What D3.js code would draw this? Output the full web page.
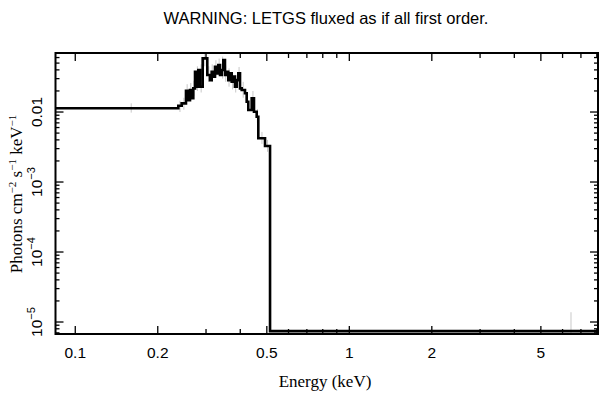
<!DOCTYPE html>
<html><head><meta charset="utf-8">
<script src="https://cdn.jsdelivr.net/npm/d3@7"></script>
<style>body{margin:0;background:#fff}svg{display:block}</style>
</head><body><svg id="c" width="609" height="399"></svg>
<script>
// Bin edges (keV) and flux per bin (photons cm^-2 s^-1 keV^-1)
const binEdges = [0.080,0.2377,0.2445,0.2535,0.2585,0.2622,0.266,0.2696,0.2735,0.2773,0.2811,0.2852,0.2917,0.3032,0.3101,0.3146,0.3188,0.3235,0.3281,0.3326,0.3374,0.3422,0.3468,0.3518,0.3569,0.3617,0.3669,0.3722,0.3772,0.3826,0.3882,0.3935,0.3992,0.4049,0.4162,0.4222,0.4279,0.4403,0.4489,0.4592,0.4655,0.4925,0.5137,9.0];
const binFlux = [0.0113,0.0123,0.0133,0.0201,0.0148,0.0206,0.0157,0.0218,0.0376,0.023,0.0398,0.023,0.0585,0.0338,0.0286,0.0376,0.032,0.0444,0.0357,0.0469,0.0338,0.0398,0.0553,0.0338,0.0376,0.0286,0.0357,0.0271,0.032,0.023,0.0286,0.0357,0.0218,0.0206,0.0185,0.014,0.0107,0.0157,0.0101,0.00857,0.00421,0.00327,7.4e-6];
// Error bars (grey)
const errE  = [0.160,0.241,0.249,0.256,0.264,0.271,0.279,0.288,0.297,0.307,0.316,0.326,0.335,0.345,0.354,0.364,0.375,0.385,0.396,0.410,0.425,0.445,0.462,0.480,0.503,6.44];
const errLo = [0.0098,0.0100,0.0108,0.016,0.015,0.017,0.020,0.019,0.045,0.027,0.027,0.033,0.034,0.030,0.027,0.023,0.021,0.019,0.022,0.016,0.011,0.011,0.0070,0.0035,0.0027,1e-6];
const errHi = [0.0133,0.0145,0.0160,0.025,0.026,0.028,0.045,0.048,0.070,0.045,0.048,0.055,0.058,0.062,0.046,0.042,0.036,0.034,0.044,0.027,0.019,0.020,0.011,0.0052,0.0040,1.38e-5];
const xTickLabels = [0.1,0.2,0.5,1,2,5];
const yTickLabels = [1e-5,1e-4,1e-3,0.01];
const title = "WARNING: LETGS fluxed as if all first order.";

const svg = d3.select("#c");
const L=55.5, R=598, T=53, B=334;
const x = d3.scaleLog().domain([0.0847, 8.08]).range([L, R]);
const y = d3.scaleLog().domain([6.74e-6, 0.0697]).range([B, T]);

svg.append("clipPath").attr("id","cp").append("rect")
  .attr("x",L).attr("y",T).attr("width",R-L).attr("height",B-T);
const g = svg.append("g").attr("clip-path","url(#cp)");

// error bars
g.selectAll("line.err").data(errE).join("line")
  .attr("x1",d=>x(d)).attr("x2",d=>x(d))
  .attr("y1",(d,i)=>y(errLo[i])).attr("y2",(d,i)=>y(errHi[i]))
  .attr("stroke","#c8c8c8").attr("stroke-width",1);

// step line
const pts = binFlux.map((v,i)=>[binEdges[i],v]);
pts.push([binEdges[binEdges.length-1], binFlux[binFlux.length-1]]);
g.append("path").attr("d", d3.line().x(d=>x(d[0])).y(d=>y(d[1])).curve(d3.curveStepAfter)(pts))
  .attr("fill","none").attr("stroke","#000").attr("stroke-width",2.6);

// ticks
const xMinor = [];
for (const dec of [0.1,1]) for (let k=1;k<=9;k++){const v=dec*k; if(v>x.domain()[0]&&v<x.domain()[1]) xMinor.push(v);}
const yMinor = [];
for (const dec of [1e-6,1e-5,1e-4,1e-3,1e-2]) for (let k=1;k<=9;k++){const v=dec*k; if(v>y.domain()[0]&&v<y.domain()[1]) yMinor.push(v);}
const tk = svg.append("g").attr("stroke","#000").attr("stroke-width",1.3);
xMinor.forEach(v=>{
  const major = xTickLabels.includes(+v.toFixed(3));
  const len = major?8:5;
  tk.append("line").attr("x1",x(v)).attr("x2",x(v)).attr("y1",B).attr("y2",B-len);
  tk.append("line").attr("x1",x(v)).attr("x2",x(v)).attr("y1",T).attr("y2",T+len);
});
yMinor.forEach(v=>{
  const major = Math.abs(Math.log10(v)-Math.round(Math.log10(v)))<1e-6;
  const len = major?8:4;
  tk.append("line").attr("y1",y(v)).attr("y2",y(v)).attr("x1",L).attr("x2",L+len);
  tk.append("line").attr("y1",y(v)).attr("y2",y(v)).attr("x1",R).attr("x2",R-len);
});
svg.append("rect").attr("x",L).attr("y",T).attr("width",R-L).attr("height",B-T)
  .attr("fill","none").attr("stroke","#000").attr("stroke-width",2);

// x tick labels
svg.selectAll("text.xt").data(xTickLabels).join("text")
  .attr("x",d=>x(d)).attr("y",358).attr("text-anchor","middle")
  .attr("font-family","Liberation Sans, Arial, sans-serif").attr("font-size",15.5)
  .text(d=>String(d));
// y tick labels (rotated)
yTickLabels.forEach(v=>{
  const t = svg.append("text").attr("transform",`translate(42,${y(v)}) rotate(-90)`)
    .attr("text-anchor","middle").attr("font-family","Liberation Sans, Arial, sans-serif").attr("font-size",15.5);
  if (v===0.01) t.text("0.01");
  else { t.append("tspan").text("10"); t.append("tspan").attr("dy",-7).attr("font-size",11).text("\u2212"+(-Math.round(Math.log10(v)))); }
});
// axis titles
svg.append("text").attr("x",325).attr("y",387).attr("text-anchor","middle")
  .attr("font-family","Liberation Serif, Times New Roman, serif").attr("font-size",17).text("Energy (keV)");
const yl = svg.append("text").attr("transform","translate(22,194) rotate(-90)").attr("text-anchor","middle")
  .attr("font-family","Liberation Serif, Times New Roman, serif").attr("font-size",17);
yl.append("tspan").text("Photons cm");
yl.append("tspan").attr("dy",-6).attr("font-size",11).text("\u22122");
yl.append("tspan").attr("dy",6).text(" s");
yl.append("tspan").attr("dy",-6).attr("font-size",11).text("\u22121");
yl.append("tspan").attr("dy",6).text(" keV");
yl.append("tspan").attr("dy",-6).attr("font-size",11).text("\u22121");
// title
svg.append("text").attr("x",326).attr("y",24).attr("text-anchor","middle")
  .attr("font-family","Liberation Sans, Arial, sans-serif").attr("font-size",16.5).text(title);
</script></body></html>
